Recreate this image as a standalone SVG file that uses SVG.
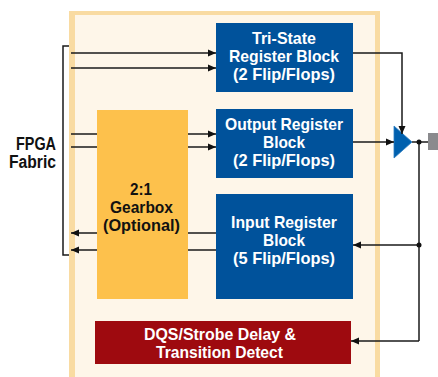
<svg xmlns="http://www.w3.org/2000/svg" width="438" height="377" viewBox="0 0 438 377">
  <defs>
    <marker id="arr" viewBox="0 0 8 8" refX="8" refY="4" markerWidth="8" markerHeight="8" markerUnits="userSpaceOnUse" orient="auto">
      <path d="M0,0.5 L8,4 L0,7.5 Z" fill="#111"/>
    </marker>
    <style>
      .lbl { font-family: "Liberation Sans", Arial, sans-serif; font-weight: bold; font-size: 17px; text-anchor: middle; }
      .end { text-anchor: end; font-size: 18px; }
      .wt { fill: #ffffff; }
      .bk { fill: #111111; }
      .blue { fill: #00529B; }
      .wire { fill: none; stroke: #1a1a1a; stroke-width: 1.5; }
      .arrow { marker-end: url(#arr); }
    </style>
  </defs>

  <rect width="438" height="377" fill="#ffffff"/>

  <!-- I/O cell frame -->
  <g id="frame">
    <rect x="69" y="11" width="311" height="370" fill="#F9DBA2"/>
    <rect x="75" y="15" width="300" height="366" fill="#FEF6E9"/>
  </g>

  <!-- FPGA fabric label -->
  <g id="fabric">
    <text class="lbl end bk" x="56" y="150" textLength="40" lengthAdjust="spacingAndGlyphs">FPGA</text>
    <text class="lbl end bk" x="56" y="168" textLength="47" lengthAdjust="spacingAndGlyphs">Fabric</text>
  </g>

  <g id="gearbox">
    <rect x="97" y="110" width="91" height="189" fill="#FDC14C"/>
    <text class="lbl bk" x="141" y="195" textLength="22" lengthAdjust="spacingAndGlyphs">2:1</text>
    <text class="lbl bk" x="141.5" y="213" textLength="63" lengthAdjust="spacingAndGlyphs">Gearbox</text>
    <text class="lbl bk" x="141.5" y="231" textLength="77" lengthAdjust="spacingAndGlyphs">(Optional)</text>
  </g>

  <g id="tristate">
    <rect class="blue" x="216" y="23" width="137" height="69"/>
    <text class="lbl wt" x="284" y="44" textLength="64" lengthAdjust="spacingAndGlyphs">Tri-State</text>
    <text class="lbl wt" x="284" y="62" textLength="110" lengthAdjust="spacingAndGlyphs">Register Block</text>
    <text class="lbl wt" x="284" y="80" textLength="102" lengthAdjust="spacingAndGlyphs">(2 Flip/Flops)</text>
  </g>

  <g id="output-reg">
    <rect class="blue" x="216" y="109" width="137" height="69"/>
    <text class="lbl wt" x="284" y="130" textLength="118" lengthAdjust="spacingAndGlyphs">Output Register</text>
    <text class="lbl wt" x="284" y="148" textLength="42" lengthAdjust="spacingAndGlyphs">Block</text>
    <text class="lbl wt" x="284" y="166" textLength="102" lengthAdjust="spacingAndGlyphs">(2 Flip/Flops)</text>
  </g>

  <g id="input-reg">
    <rect class="blue" x="216" y="194" width="137" height="105"/>
    <text class="lbl wt" x="284" y="228" textLength="106" lengthAdjust="spacingAndGlyphs">Input Register</text>
    <text class="lbl wt" x="284" y="246" textLength="42" lengthAdjust="spacingAndGlyphs">Block</text>
    <text class="lbl wt" x="284" y="264" textLength="102" lengthAdjust="spacingAndGlyphs">(5 Flip/Flops)</text>
  </g>

  <g id="dqs">
    <rect x="95" y="321" width="256" height="43" fill="#9E0A0F"/>
    <text class="lbl wt" x="220" y="340" textLength="152" lengthAdjust="spacingAndGlyphs">DQS/Strobe Delay &amp;</text>
    <text class="lbl wt" x="219.5" y="358" textLength="127" lengthAdjust="spacingAndGlyphs">Transition Detect</text>
  </g>

  <g id="buffer">
    <path d="M394,126 L412,142 L394,158 Z" fill="#0060AE" stroke="#2A7CC0" stroke-width="0.8"/>
  </g>

  <g id="pad">
    <rect x="428" y="133" width="10" height="17" fill="#8A8A8D"/>
  </g>

  <g id="connectors">
    <!-- fabric bracket -->
    <path class="wire" d="M69,46 H63 V255 H69" stroke="#333"/>
    <!-- fabric to tri-state register -->
    <path class="wire arrow" d="M71,53 H216"/>
    <path class="wire arrow" d="M71,68 H216"/>
    <!-- fabric through gearbox to output register -->
    <path class="wire" d="M71,134 H97"/>
    <path class="wire" d="M71,147 H97"/>
    <path class="wire arrow" d="M188,134 H216"/>
    <path class="wire arrow" d="M188,147 H216"/>
    <!-- input register through gearbox to fabric -->
    <path class="wire" d="M216,233 H188"/>
    <path class="wire" d="M216,250 H188"/>
    <path class="wire arrow" d="M97,233 H71"/>
    <path class="wire arrow" d="M97,250 H71"/>
    <!-- tri-state enable into buffer -->
    <path class="wire arrow" d="M353,53 H402 V134"/>
    <!-- output data into buffer -->
    <path class="wire arrow" d="M353,142 H394"/>
    <!-- buffer to pad -->
    <path class="wire" d="M412,142 H428"/>
    <!-- pad back to input paths -->
    <path class="wire" d="M419,142 V341" stroke="#444"/>
    <path class="wire arrow" d="M419,245 H353"/>
    <path class="wire arrow" d="M419,341 H351"/>
    <circle cx="419" cy="142" r="2.5" fill="#111"/>
    <circle cx="419" cy="245" r="2.5" fill="#111"/>
  </g>
</svg>
